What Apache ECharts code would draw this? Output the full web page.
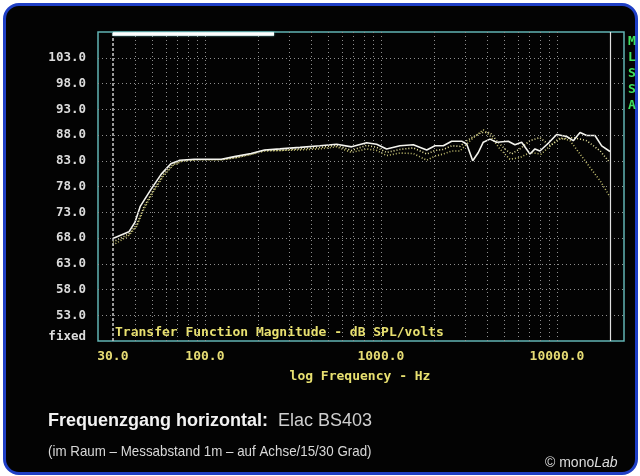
<!DOCTYPE html>
<html>
<head>
<meta charset="utf-8">
<script src="https://cdn.jsdelivr.net/npm/echarts@6/dist/echarts.min.js"></script>
<style>
html,body{margin:0;padding:0;background:#ffffff;width:640px;height:476px;overflow:hidden;}
#frame{position:absolute;left:3px;top:3px;width:629px;height:466px;border:3px solid #1f3fc6;border-radius:16px;background:#030303;}
#chart{position:absolute;left:0;top:0;width:640px;height:476px;}
</style>
</head>
<body>
<div id="frame"></div>
<div id="chart"></div>
<script>
// ---- data ----
const freq0 = [30, 37, 40, 43, 49.5, 56.5, 64, 72, 87, 124, 147, 183, 218, 267, 347, 450, 560, 681, 829, 945, 1077, 1283, 1527, 1820, 2028, 2261, 2522, 2876, 3073, 3322, 3574, 3814, 4160, 4540, 5285, 5770, 6300, 7025, 7500, 8000, 8925, 9960, 11350, 12380, 13520, 14760, 16440, 17950, 20000];
const spl0  = [67.9, 69.2, 71.0, 74.2, 77.5, 80.4, 82.4, 83.1, 83.3, 83.3, 83.8, 84.4, 85.1, 85.3, 85.6, 85.9, 86.2, 85.7, 86.5, 86.2, 85.3, 85.9, 86.1, 85.1, 85.9, 85.9, 86.8, 86.8, 86.2, 83.0, 84.6, 86.6, 87.2, 86.6, 86.8, 86.1, 86.6, 84.3, 85.3, 84.9, 86.4, 88.1, 87.7, 86.9, 88.5, 87.9, 87.9, 85.9, 84.8];

const freq15 = [30, 37, 41, 45, 51, 58, 66, 74, 90, 124, 150, 183, 218, 267, 347, 450, 560, 681, 829, 945, 1077, 1283, 1527, 1820, 2028, 2261, 2522, 2812, 3073, 3400, 3736, 4160, 4540, 5050, 5510, 6150, 7025, 8000, 9130, 10420, 12380, 14760, 17600, 20000];
const spl15  = [67.2, 68.8, 70.6, 74.0, 77.3, 80.3, 82.3, 83.0, 83.2, 83.2, 83.6, 84.3, 85.0, 85.0, 85.3, 85.6, 86.0, 85.0, 86.0, 85.6, 84.6, 85.2, 85.5, 84.3, 85.0, 85.2, 85.9, 85.8, 86.9, 87.8, 88.5, 88.5, 86.9, 85.3, 84.3, 85.3, 86.9, 87.5, 85.9, 87.2, 87.5, 86.9, 84.9, 82.6];

const freq30 = [30, 37, 41, 45, 51, 58, 66, 74, 90, 124, 150, 183, 218, 267, 347, 450, 560, 681, 829, 945, 1077, 1283, 1527, 1820, 2028, 2261, 2522, 2812, 3280, 3814, 4160, 4740, 5400, 6150, 7025, 8140, 9130, 10420, 11870, 13520, 15400, 17600, 20000];
const spl30  = [66.6, 68.5, 70.3, 73.6, 77.0, 80.0, 82.1, 82.9, 83.2, 83.2, 83.6, 84.2, 84.9, 85.0, 85.1, 85.3, 85.7, 84.6, 85.3, 85.0, 84.0, 84.5, 84.4, 83.1, 83.9, 84.3, 84.9, 84.9, 87.2, 89.0, 87.9, 85.3, 83.3, 83.6, 84.6, 84.3, 85.9, 87.5, 86.9, 84.3, 81.7, 79.1, 76.0];

const xTickValues = [30, 100, 1000, 10000];
const xTickLabels = ['30.0', '100.0', '1000.0', '10000.0'];
const yTickValues = [48, 53, 58, 63, 68, 73, 78, 83, 88, 93, 98, 103];
const yTickLabels = ['fixed', '53.0', '58.0', '63.0', '68.0', '73.0', '78.0', '83.0', '88.0', '93.0', '98.0', '103.0'];
const xGridValues = [40, 50, 60, 70, 80, 90, 100, 200, 300, 400, 500, 600, 700, 800, 900, 1000, 2000, 3000, 4000, 5000, 6000, 7000, 8000, 9000, 10000];
const yGridValues = [53, 58, 63, 68, 73, 78, 83, 88, 93, 98, 103];
const refStartFreq = 30;
const refEndFreq = 20000;
const topBarRange = [30, 247];
const topBarLevel = 107.6;

// ---- build chart ----
const pairs = (f, s) => f.map((v, i) => [v, s[i]]);
const mono = '"DejaVu Sans Mono", monospace';
const hidden = {color: 'rgba(0,0,0,0)', width: 0.01, type: 'solid'};

const markData = [];
xGridValues.forEach(v => markData.push({
  xAxis: v,
  lineStyle: {color: '#8e8e8e', width: 1, type: [1, 3]},
  label: {show: false}
}));
yGridValues.forEach(v => markData.push({
  yAxis: v,
  lineStyle: {color: '#8e8e8e', width: 1, type: [1, 3]},
  label: {show: false}
}));
xTickValues.forEach((v, i) => markData.push({
  xAxis: v,
  lineStyle: hidden,
  label: {show: true, position: 'start', formatter: xTickLabels[i], color: '#e6dc74',
          fontFamily: mono, fontWeight: 'bold', fontSize: 13, distance: 9}
}));
yTickValues.forEach((v, i) => markData.push({
  yAxis: v,
  lineStyle: hidden,
  label: {show: true, position: 'start', formatter: yTickLabels[i], color: '#dcdcdc',
          fontFamily: mono, fontWeight: 'bold', fontSize: 12.5, distance: 12,
          offset: i === 0 ? [0, -4] : [0, 0]}
}));
markData.push({
  xAxis: refStartFreq,
  lineStyle: {color: '#cccccc', width: 1.5, type: [3, 2]},
  label: {show: false}
});
markData.push({
  xAxis: refEndFreq,
  lineStyle: {color: '#e0e0e0', width: 1.2, type: 'solid'},
  label: {show: false}
});
markData.push([
  {coord: [topBarRange[0], topBarLevel], lineStyle: {color: '#ffffff', width: 3.5, type: 'solid', shadowColor: '#80e0e0', shadowBlur: 2}, label: {show: false}},
  {coord: [topBarRange[1], topBarLevel]}
]);

const chart = echarts.init(document.getElementById('chart'), null, {renderer: 'canvas'});
chart.setOption({
  animation: false,
  backgroundColor: 'transparent',
  grid: {left: 98, top: 32, right: 16, bottom: 135, show: true, borderColor: '#62b4b4', borderWidth: 1.5, backgroundColor: 'transparent'},
  xAxis: {type: 'log', logBase: 10, min: 24.7, max: 24030, show: false, splitLine: {show: false}},
  yAxis: {type: 'value', min: 48, max: 108, show: false, splitLine: {show: false}},
  series: [
    {
      name: '30 Grad', type: 'line', data: pairs(freq30, spl30), showSymbol: false, smooth: false,
      lineStyle: {color: '#c4c070', width: 1.6, type: [1, 2]},
      markLine: {silent: true, symbol: ['none', 'none'], animation: false, precision: 4, data: markData}
    },
    {
      name: '15 Grad', type: 'line', data: pairs(freq15, spl15), showSymbol: false,
      lineStyle: {color: '#e6e29c', width: 1.6, type: [1, 2]}
    },
    {
      name: 'Achse', type: 'line', data: pairs(freq0, spl0), showSymbol: false,
      lineStyle: {color: '#f4f4ee', width: 1.6, type: 'solid'}
    }
  ],
  graphic: [
    {type: 'text', x: 115, y: 333, style: {text: 'Transfer Function Magnitude - dB SPL/volts', fill: '#e8e070', font: 'bold 13px ' + mono, textVerticalAlign: 'middle'}},
    {type: 'text', x: 360, y: 377, style: {text: 'log Frequency - Hz', fill: '#e8e070', font: 'bold 13px ' + mono, textAlign: 'center', textVerticalAlign: 'middle'}},
    {type: 'text', x: 632, y: 34, style: {text: 'M\nL\nS\nS\nA', fill: '#3ee060', font: 'bold 13px ' + mono, textAlign: 'center', lineHeight: 16}},
    {type: 'text', x: 48, y: 421, style: {
      text: '{b|Frequenzgang horizontal:}{n|  Elac BS403}', textVerticalAlign: 'middle',
      rich: {
        b: {fontFamily: '"Liberation Sans", Arial, sans-serif', fontWeight: 'bold', fontSize: 18, fill: '#f2f2f2'},
        n: {fontFamily: '"Liberation Sans", Arial, sans-serif', fontSize: 18, fill: '#cfcfcf'}
      }
    }},
    {type: 'text', x: 48, y: 452, scaleX: 0.89, style: {text: '(im Raum \u2013 Messabstand 1m \u2013 auf Achse/15/30 Grad)', fill: '#d8d8d8', font: '15px "Liberation Sans", sans-serif', textVerticalAlign: 'middle'}},
    {type: 'text', x: 545, y: 463, style: {
      text: '{a|\u00a9 mono}{i|Lab}', textVerticalAlign: 'middle',
      rich: {
        a: {fontFamily: '"Liberation Sans", Arial, sans-serif', fontSize: 14, fill: '#dddddd'},
        i: {fontFamily: '"Liberation Sans", Arial, sans-serif', fontSize: 14, fontStyle: 'italic', fill: '#dddddd'}
      }
    }}
  ]
});
</script>
</body>
</html>
